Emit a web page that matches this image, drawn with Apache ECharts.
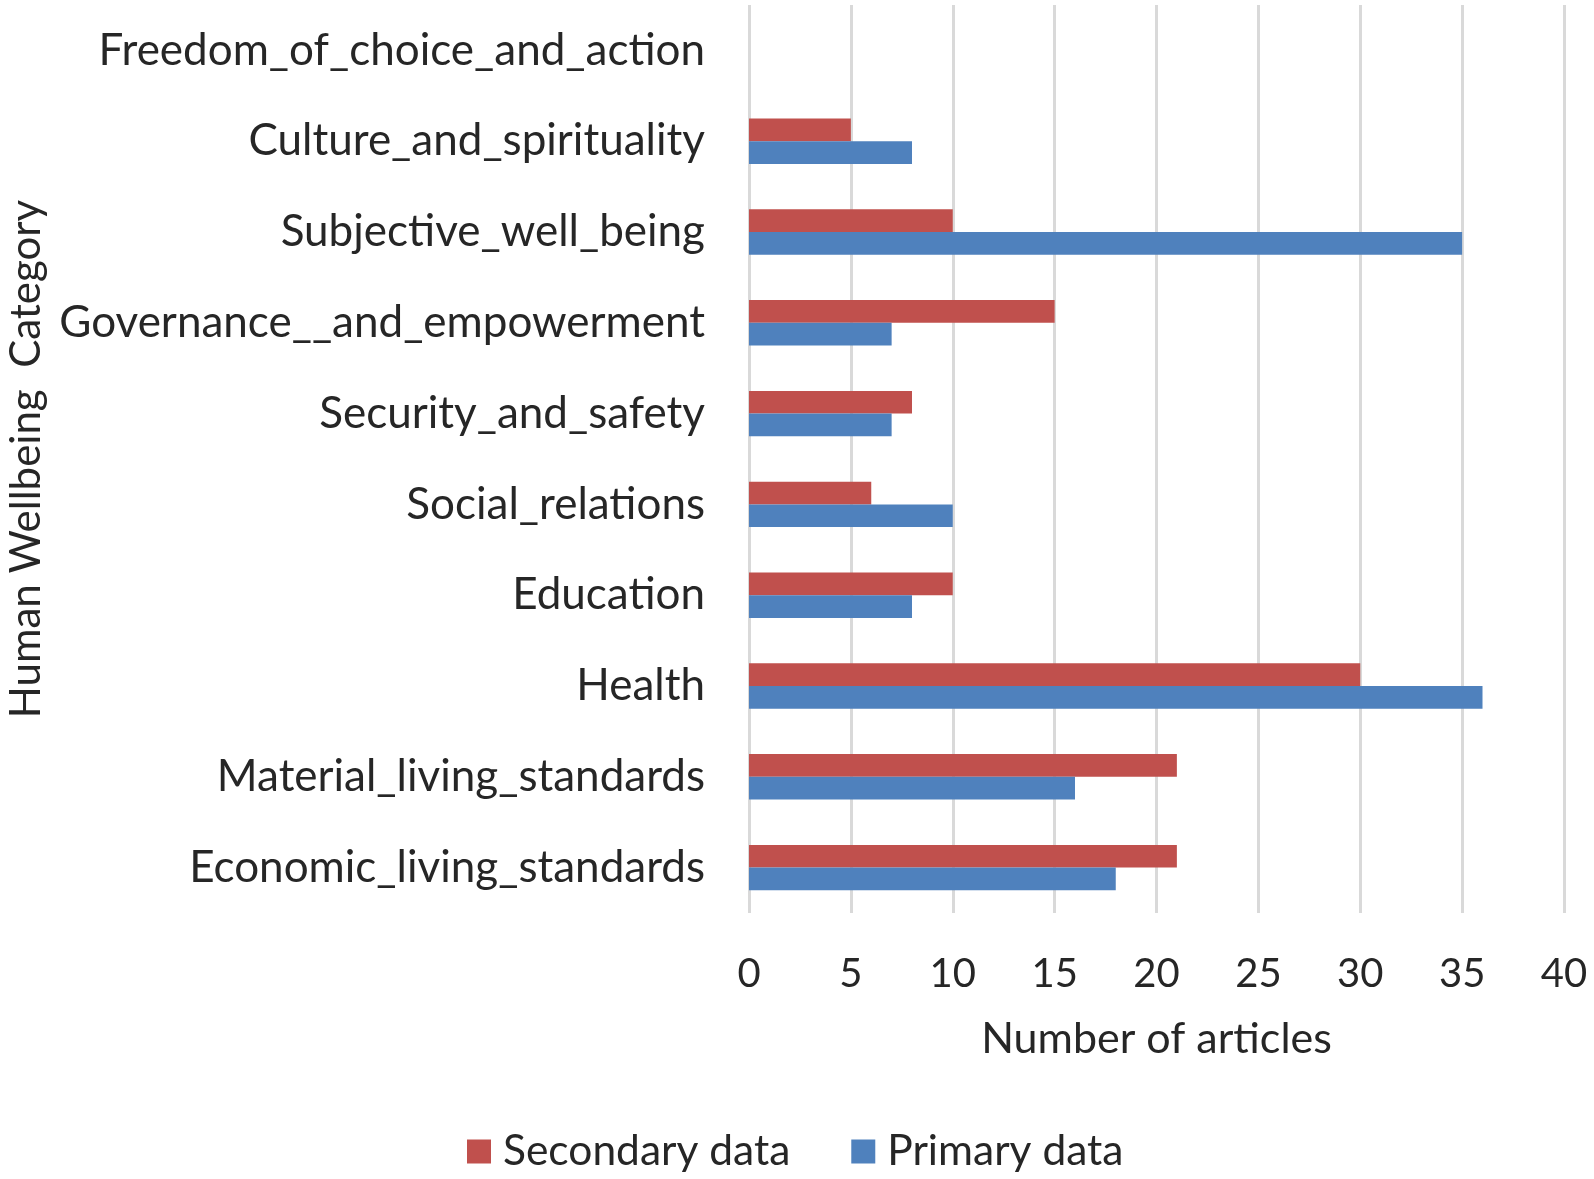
<!DOCTYPE html>
<html>
<head>
<meta charset="utf-8">
<script src="https://cdn.jsdelivr.net/npm/echarts@6/dist/echarts.min.js"></script>
<style>html,body{margin:0;padding:0;background:#fff;}#c{width:1594px;height:1179px;}</style>
</head>
<body>
<div id="c"></div>
<script>
const categories = ["Economic_living_standards","Material_living_standards","Health","Education","Social_relations","Security_and_safety","Governance__and_empowerment","Subjective_well_being","Culture_and_spirituality","Freedom_of_choice_and_action"];
const secondaryData = [21,21,30,10,6,8,15,10,5,0];
const primaryData = [18,16,36,8,10,7,7,35,8,0];
const xTicks = {min:0, max:40, interval:5};

const FONT = 'Lato';
const TXT = '#262626';
const chart = echarts.init(document.getElementById('c'), null, {renderer:'canvas'});
chart.setOption({
  animation:false,
  backgroundColor:'#fff',
  textStyle:{fontFamily:FONT,color:TXT},
  grid:{left:749,right:30,top:5,bottom:266,containLabel:false,outerBoundsMode:'none'},
  legend:{
    data:['Secondary data','Primary data'],
    left:462, top:1125,
    itemWidth:24,itemHeight:24,itemGap:61,
    icon:'rect',
    textStyle:{fontFamily:FONT,fontSize:42.5,color:TXT,padding:[0,0,0,7]}
  },
  xAxis:{
    type:'value',min:xTicks.min,max:xTicks.max,interval:xTicks.interval,
    axisLine:{show:false},axisTick:{show:false},
    splitLine:{show:true,lineStyle:{color:'#D9D9D9',width:3}},
    axisLabel:{fontFamily:FONT,fontSize:40,color:TXT,margin:41},
    name:'Number of articles',nameLocation:'middle',nameGap:105,
    nameTextStyle:{fontFamily:FONT,fontSize:43,color:TXT}
  },
  yAxis:{
    type:'category',data:categories,
    axisLine:{show:false},axisTick:{show:false},
    axisLabel:{fontFamily:FONT,fontSize:44,color:TXT,margin:44},
    name:'Human Wellbeing  Category',nameLocation:'middle',nameGap:702,
    nameTextStyle:{fontFamily:FONT,fontSize:42,color:TXT}
  },
  series:[
    {name:'Secondary data',type:'bar',data:secondaryData,barGap:'0%',barCategoryGap:'50%',itemStyle:{color:'#C0504D'}},
    {name:'Primary data',type:'bar',data:primaryData,barGap:'0%',barCategoryGap:'50%',itemStyle:{color:'#4F81BD'}}
  ]
});
</script>
</body>
</html>
